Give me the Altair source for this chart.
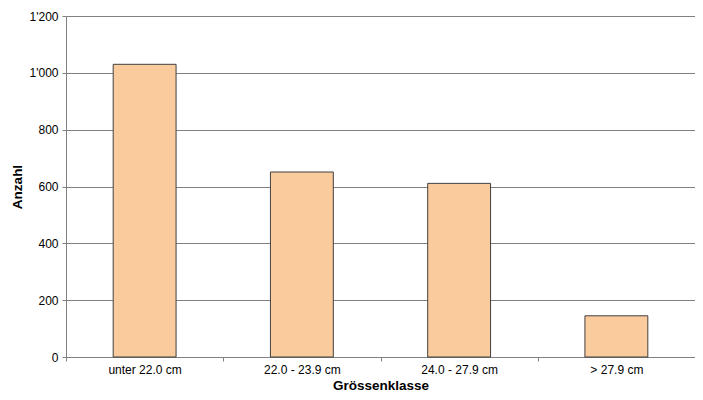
import altair as alt
import pandas as pd

categories = ["unter 22.0 cm", "22.0 - 23.9 cm", "24.0 - 27.9 cm", "> 27.9 cm"]
counts = [1030, 651, 611, 145]

df = pd.DataFrame({"Grössenklasse": categories, "Anzahl": counts})

FONT = "Liberation Sans"

chart = alt.Chart(df).mark_bar(
    width=alt.RelativeBandSize(0.4),
    fill="#FACB9C",
    stroke="#404040",
    strokeWidth=1,
).encode(
    x=alt.X(
        "Grössenklasse:N",
        sort=categories,
        scale=alt.Scale(paddingInner=0, paddingOuter=0),
        axis=alt.Axis(
            title="Grössenklasse",
            labelAngle=0,
            tickBand="extent",
            tickSize=4,
            tickColor="#808080",
            domainColor="#808080",
            labelFont=FONT,
            labelFontSize=12,
            labelColor="#000000",
            labelPadding=3,
            titleFont=FONT,
            titleFontSize=13.5,
            titleFontWeight="bold",
            titleColor="#000000",
            titleBaseline="alphabetic",
            titleY=32,
            grid=False,
        ),
    ),
    y=alt.Y(
        "Anzahl:Q",
        scale=alt.Scale(domain=[0, 1200], nice=False),
        axis=alt.Axis(
            title="Anzahl",
            values=[0, 200, 400, 600, 800, 1000, 1200],
            labelExpr="replace(format(datum.value, ','), ',', \"'\")",
            tickSize=4,
            tickColor="#808080",
            domainColor="#808080",
            gridColor="#808080",
            gridWidth=1,
            labelFont=FONT,
            labelFontSize=12,
            labelColor="#000000",
            labelPadding=4,
            titleFont=FONT,
            titleFontSize=13.5,
            titleFontWeight="bold",
            titleColor="#000000",
            titlePadding=5,
        ),
    ),
).properties(
    width=629,
    height=341,
    padding={"left": 58, "top": 8, "right": 0, "bottom": 35},
    autosize=alt.AutoSizeParams(type="none"),
).configure_view(
    stroke=None
).configure_axis(
    domainWidth=1,
    tickWidth=1,
)

chart.save("out.html", embed_options={"renderer": "svg", "actions": False})
